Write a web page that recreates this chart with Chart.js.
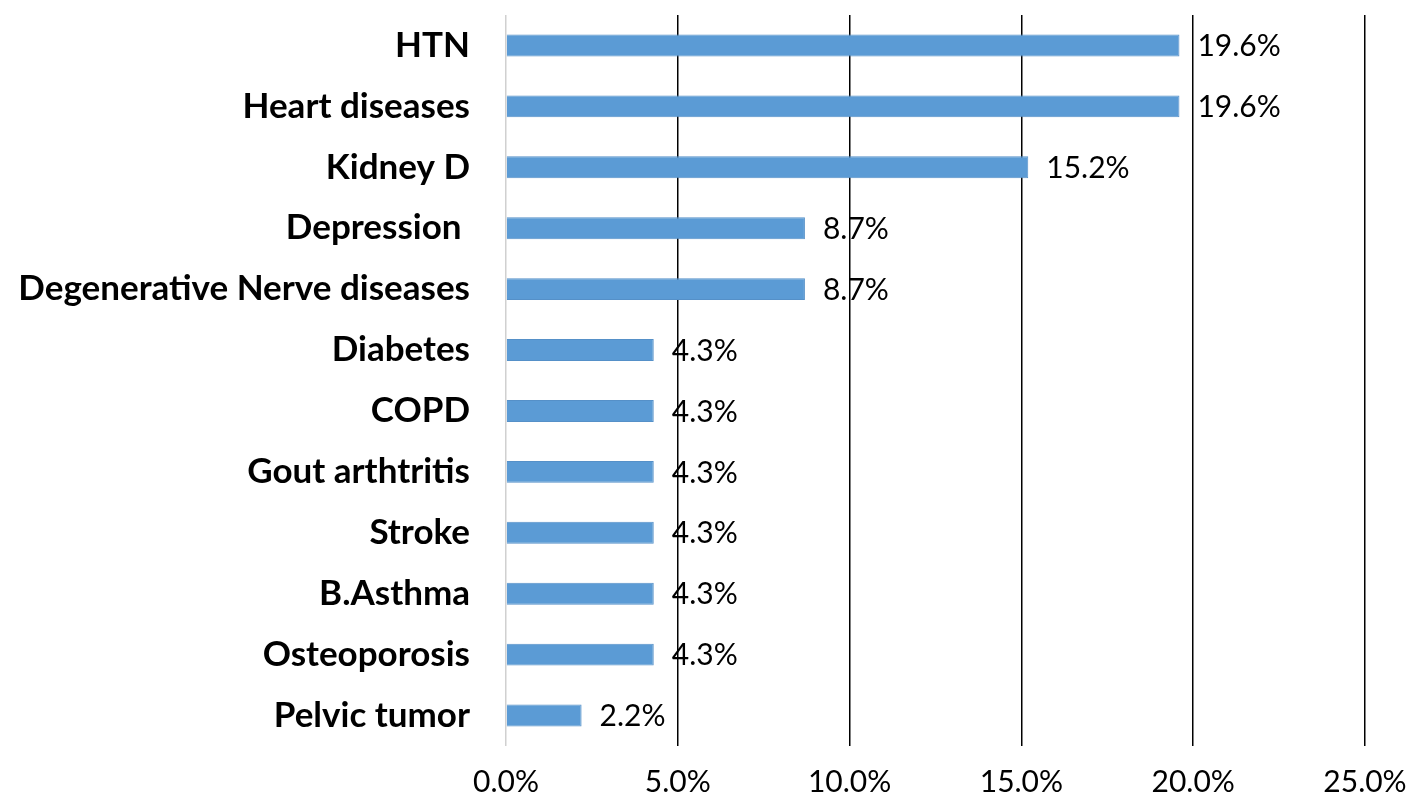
<!DOCTYPE html>
<html>
<head>
<meta charset="utf-8">
<script src="https://cdn.jsdelivr.net/npm/chart.js@4"></script>
<style>
    html, body { margin: 0; padding: 0; background: #ffffff; }
    #wrap { width: 1417px; height: 808px; }
</style>
</head>
<body>
<div id="wrap"><canvas id="comorbidityChart"></canvas></div>
<script>
// Chart data
const categories = [
    'HTN', 'Heart diseases', 'Kidney D', 'Depression ', 'Degenerative Nerve diseases',
    'Diabetes', 'COPD', 'Gout arthtritis', 'Stroke', 'B.Asthma', 'Osteoporosis', 'Pelvic tumor'
];
const percentValues = [19.6, 19.6, 15.2, 8.7, 8.7, 4.3, 4.3, 4.3, 4.3, 4.3, 4.3, 2.2];
const xTicks = [0, 5, 10, 15, 20, 25];

const FONT = "Lato, 'Open Sans', sans-serif";

/**
 * Draw value labels just past the end of each bar
 */
const valueLabels = {
    id: 'valueLabels',
    afterDatasetsDraw(chart) {
        const ctx = chart.ctx;
        const meta = chart.getDatasetMeta(0);
        ctx.save();
        ctx.font = '30px ' + FONT;
        ctx.fillStyle = '#000000';
        ctx.textAlign = 'left';
        ctx.textBaseline = 'middle';
        meta.data.forEach((bar, i) => {
            ctx.fillText(percentValues[i].toFixed(1) + '%', bar.x + 18, bar.y + 1);
        });
        ctx.restore();
    }
};

new Chart(document.getElementById('comorbidityChart'), {
    type: 'bar',
    data: {
        labels: categories,
        datasets: [{
            data: percentValues,
            backgroundColor: '#5b9bd5',
            borderColor: '#5590c8',
            borderWidth: 1,
            categoryPercentage: 1,
            barPercentage: 0.36
        }]
    },
    plugins: [valueLabels],
    options: {
        indexAxis: 'y',
        responsive: true,
        maintainAspectRatio: false,
        animation: false,
        layout: {
            padding: { top: 15, right: 52, left: 0, bottom: 0 }
        },
        plugins: {
            legend: { display: false },
            tooltip: { enabled: false }
        },
        scales: {
            x: {
                min: 0,
                max: 25,
                afterBuildTicks(scale) {
                    scale.ticks = xTicks.map(v => ({ value: v }));
                },
                afterFit(scale) {
                    scale.height = 62;
                    scale.paddingLeft = 0;
                    scale.paddingRight = 0;
                },
                border: { display: false },
                grid: {
                    drawTicks: false,
                    lineWidth: 1.5,
                    color: ctx => ctx.index === 0 ? '#d0d0d0' : '#000000'
                },
                ticks: {
                    padding: 18,
                    color: '#000000',
                    font: { family: FONT, size: 30 },
                    callback: value => value.toFixed(1) + '%'
                }
            },
            y: {
                afterFit(scale) {
                    scale.width = 506;
                    scale.paddingTop = 0;
                    scale.paddingBottom = 0;
                },
                border: { display: false },
                grid: { display: false, drawTicks: false },
                ticks: {
                    padding: 36,
                    color: '#000000',
                    font: { family: FONT, size: 35, weight: 'bold' }
                }
            }
        }
    }
});
</script>
</body>
</html>
